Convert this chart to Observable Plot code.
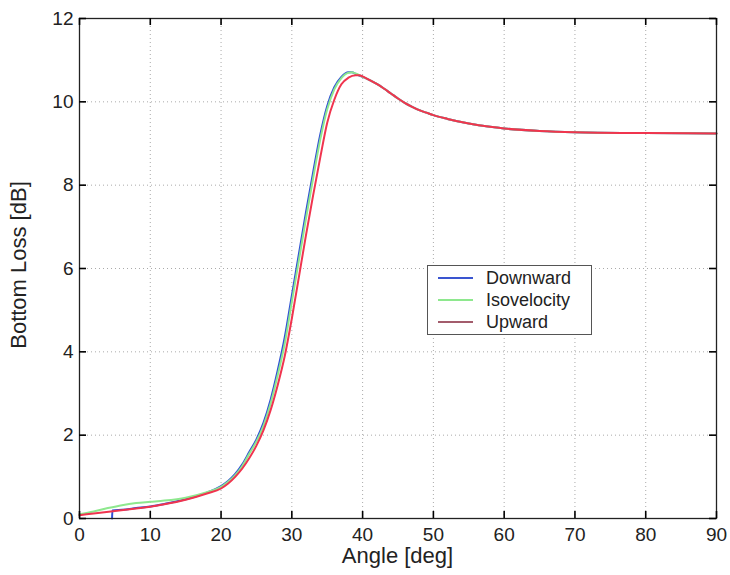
<!DOCTYPE html>
<html>
<head>
<meta charset="utf-8">
<script src="https://cdn.jsdelivr.net/npm/d3@7"></script>
<script src="https://cdn.jsdelivr.net/npm/@observablehq/plot@0.6"></script>
<style>
  html, body { margin: 0; padding: 0; background: #fff; }
  #wrap { position: relative; width: 730px; height: 575px; font-family: "Liberation Sans", Arial, Helvetica, sans-serif; color: #222; }
  #wrap svg { position: absolute; left: 0; top: 0; }
  .xtitle { position: absolute; left: 0; width: 795px; top: 545px; line-height: 22px; text-align: center; font-size: 22px; }
  .ytitle { position: absolute; left: 19px; top: 265px; transform: translate(-50%, -50%) rotate(-90deg); white-space: nowrap; font-size: 22px; line-height: 22px; }
  .legend { position: absolute; left: 427px; top: 265px; width: 165px; height: 70px; border: 1px solid #555; background: #fff; box-sizing: border-box; }
  .legend .row { position: absolute; left: 0; height: 22px; display: flex; align-items: center; }
  .legend .sw { width: 35px; height: 0; border-top: 2px solid; margin-left: 10px; }
  .legend .lb { margin-left: 13px; font-size: 18px; }
</style>
</head>
<body>
<div id="wrap"></div>
<script>
// ---- data ----
const angleTicks = [0, 10, 20, 30, 40, 50, 60, 70, 80, 90];
const lossTicks = [0, 2, 4, 6, 8, 10, 12];
const seriesNames = ["Downward", "Isovelocity", "Upward"];
const lineColors = ["#2f4fd6", "#8ee88e", "#f0344e"];
const swatchColors = ["#3a55d0", "#8ee88e", "#a35c6c"];

const downAngle = [4.6, 4.65, 6, 8, 10, 12, 15, 18, 20, 21, 22, 23, 24, 25, 26, 27, 28, 29, 30, 31, 32, 33, 34, 35, 36, 37, 38, 38.5, 39, 40, 41, 42, 43, 44, 45, 46, 47, 48, 49, 50, 52, 55, 58, 60, 65, 70, 80, 90];
const downLoss  = [0.0, 0.19, 0.21, 0.25, 0.29, 0.35, 0.46, 0.62, 0.78, 0.9, 1.07, 1.3, 1.6, 1.9, 2.3, 2.85, 3.55, 4.35, 5.35, 6.35, 7.35, 8.3, 9.2, 9.9, 10.35, 10.6, 10.71, 10.71, 10.67, 10.6, 10.52, 10.43, 10.32, 10.2, 10.08, 9.97, 9.88, 9.8, 9.74, 9.68, 9.59, 9.48, 9.4, 9.36, 9.3, 9.27, 9.25, 9.24];

const isoAngle = [0, 2, 4, 6, 8, 10, 12, 15, 18, 20, 21, 22, 23, 24, 25, 26, 27, 28, 29, 30, 31, 32, 33, 34, 35, 36, 37, 38, 38.5, 39, 40, 41, 42, 43, 44, 45, 46, 47, 48, 49, 50, 52, 55, 58, 60, 65, 70, 80, 90];
const isoLoss  = [0.1, 0.17, 0.25, 0.32, 0.37, 0.4, 0.43, 0.5, 0.63, 0.76, 0.88, 1.04, 1.26, 1.56, 1.85, 2.23, 2.76, 3.44, 4.2, 5.2, 6.2, 7.2, 8.16, 9.08, 9.82, 10.3, 10.57, 10.7, 10.71, 10.68, 10.6, 10.52, 10.43, 10.32, 10.2, 10.08, 9.97, 9.88, 9.8, 9.74, 9.68, 9.59, 9.48, 9.4, 9.36, 9.3, 9.27, 9.25, 9.24];

const upAngle = [0, 2, 5, 8, 10, 12, 15, 18, 20, 21, 22, 23, 24, 25, 26, 27, 28, 29, 30, 31, 32, 33, 34, 35, 36, 37, 38, 39, 39.5, 40, 41, 42, 43, 44, 45, 46, 47, 48, 49, 50, 52, 55, 58, 60, 65, 70, 80, 90];
const upLoss  = [0.08, 0.12, 0.18, 0.24, 0.28, 0.34, 0.45, 0.6, 0.72, 0.84, 1.0, 1.2, 1.45, 1.75, 2.12, 2.6, 3.2, 3.9, 4.8, 5.8, 6.8, 7.75, 8.65, 9.5, 10.05, 10.42, 10.58, 10.64, 10.64, 10.61, 10.52, 10.43, 10.32, 10.2, 10.08, 9.97, 9.88, 9.8, 9.74, 9.68, 9.59, 9.48, 9.4, 9.36, 9.3, 9.27, 9.25, 9.24];

const toRows = (xs, ys, s) => xs.map((x, i) => ({angle: x, loss: ys[i], series: s}));
const rows = [
  ...toRows(downAngle, downLoss, seriesNames[0]),
  ...toRows(isoAngle, isoLoss, seriesNames[1]),
  ...toRows(upAngle, upLoss, seriesNames[2])
];

const W = 730, H = 575, mL = 79, mR = 14, mT = 18, mB = 57;
const innerW = W - mL - mR, innerH = H - mT - mB, tickLen = 7;
const fontFam = '"Liberation Sans", Arial, Helvetica, sans-serif';
const tickStyle = {stroke: "#000", strokeWidth: 1.6};
const plot = Plot.plot({
  width: W,
  height: H,
  marginLeft: mL,
  marginRight: mR,
  marginTop: mT,
  marginBottom: mB,
  style: {fontFamily: fontFam, fontSize: "19px", color: "#222", background: "transparent"},
  x: {domain: [0, 90], ticks: angleTicks},
  y: {domain: [0, 12], ticks: lossTicks},
  color: {domain: seriesNames, range: lineColors},
  marks: [
    Plot.gridX(angleTicks, {stroke: "#aaa", strokeOpacity: 1, strokeDasharray: "1,3"}),
    Plot.gridY(lossTicks, {stroke: "#aaa", strokeOpacity: 1, strokeDasharray: "1,3"}),
    Plot.line(rows, {x: "angle", y: "loss", z: "series", stroke: "series", strokeWidth: 2, curve: "monotone-x"}),
    Plot.frame({stroke: "#222", strokeWidth: 1.3}),
    // inward tick marks on all four sides
    Plot.tickX(angleTicks, {x: d => d, insetTop: innerH - tickLen, ...tickStyle}),
    Plot.tickX(angleTicks, {x: d => d, insetBottom: innerH - tickLen, ...tickStyle}),
    Plot.tickY(lossTicks, {y: d => d, insetRight: innerW - tickLen, ...tickStyle}),
    Plot.tickY(lossTicks, {y: d => d, insetLeft: innerW - tickLen, ...tickStyle}),
    // tick labels
    Plot.axisX(angleTicks, {anchor: "bottom", tickSize: 0, tickPadding: 9, label: null}),
    Plot.axisY(lossTicks, {anchor: "left", tickSize: 0, tickPadding: 6, label: null})
  ]
});

const wrap = document.getElementById("wrap");
wrap.appendChild(plot);

const xt = document.createElement("div");
xt.className = "xtitle"; xt.textContent = "Angle [deg]";
wrap.appendChild(xt);
const yt = document.createElement("div");
yt.className = "ytitle"; yt.textContent = "Bottom Loss [dB]";
wrap.appendChild(yt);

const lg = document.createElement("div");
lg.className = "legend";
seriesNames.forEach((name, i) => {
  const r = document.createElement("div");
  r.className = "row";
  r.style.top = (1 + i * 22) + "px";
  const sw = document.createElement("div");
  sw.className = "sw"; sw.style.borderTopColor = swatchColors[i];
  const lb = document.createElement("div");
  lb.className = "lb"; lb.textContent = name;
  r.appendChild(sw); r.appendChild(lb);
  lg.appendChild(r);
});
wrap.appendChild(lg);
</script>
</body>
</html>
